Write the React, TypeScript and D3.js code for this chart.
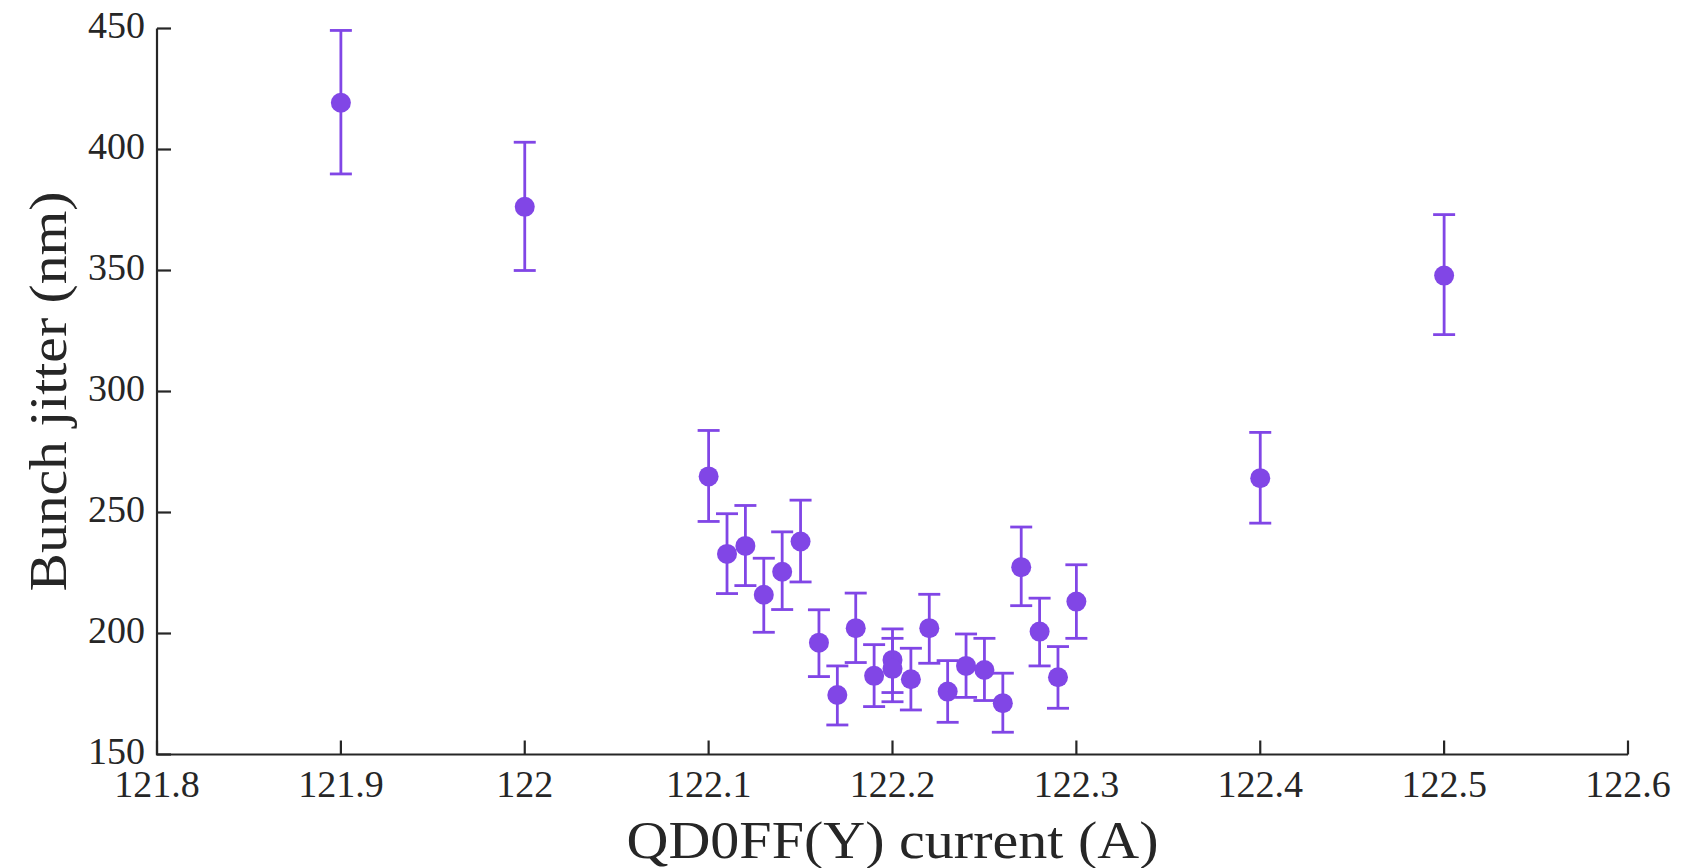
import React from "react";
import * as d3 from "d3";

// QD0FF(Y) current (A)
const currents = [
  121.9, 122.0, 122.1, 122.11, 122.12, 122.13, 122.14, 122.15, 122.16, 122.17,
  122.18, 122.19, 122.2, 122.2, 122.21, 122.22, 122.23, 122.24, 122.25, 122.26,
  122.27, 122.28, 122.29, 122.3, 122.4, 122.5,
];
// Bunch jitter (nm)
const jitter = [
  419.3, 376.3, 264.9, 232.9, 236.2, 216.0, 225.5, 238.0, 196.2, 174.6,
  202.2, 182.5, 189.1, 185.4, 181.1, 202.2, 176.0, 186.6, 184.9, 171.2,
  227.4, 200.8, 181.9, 213.2, 264.2, 347.9,
];
const jitterLow = [
  389.9, 350.0, 246.3, 216.5, 219.8, 200.5, 209.9, 221.3, 182.2, 162.2,
  188.0, 169.8, 175.6, 171.8, 168.4, 187.7, 163.3, 173.6, 172.3, 159.2,
  211.5, 186.6, 169.1, 198.0, 245.6, 323.5,
];
const jitterHigh = [
  449.2, 403.0, 283.9, 249.5, 252.9, 231.1, 242.0, 255.1, 209.8, 186.6,
  216.7, 195.4, 201.9, 198.0, 193.9, 216.2, 188.8, 199.8, 198.0, 183.6,
  244.0, 214.6, 194.6, 228.4, 283.1, 373.1,
];
const xTicks = [121.8, 121.9, 122.0, 122.1, 122.2, 122.3, 122.4, 122.5, 122.6];
const xTickLabels = ["121.8", "121.9", "122", "122.1", "122.2", "122.3", "122.4", "122.5", "122.6"];
const yTicks = [150, 200, 250, 300, 350, 400, 450];

const W = 1698;
const H = 868;
const left = 157;
const right = 1628;
const top = 28.5;
const bottom = 754.5;
const FONT = "'Liberation Serif', 'Times New Roman', serif";
const PURPLE = "#8146e6";
const AXIS = "#262626";

export default function App() {
  const x = d3.scaleLinear().domain([121.8, 122.6]).range([left, right]);
  const y = d3.scaleLinear().domain([150, 450]).range([bottom, top]);
  const tickLen = 14;
  const capHalf = 11;

  return (
    <div style={{ position: "absolute", left: 0, top: 0 }}>
      <svg width={W} height={H} style={{ display: "block", background: "#fff" }}>
        {/* axes */}
        <path
          d={`M${left},${top}V${bottom}H${right}`}
          fill="none"
          stroke={AXIS}
          strokeWidth={2.2}
        />
        {yTicks.map((t) => (
          <g key={"y" + t}>
            <line x1={left} x2={left + tickLen} y1={y(t)} y2={y(t)} stroke={AXIS} strokeWidth={2.2} />
            <text
              x={left - 12}
              y={y(t) + 9}
              textAnchor="end"
              fontFamily={FONT}
              fontSize={38}
              fill={AXIS}
            >
              {t}
            </text>
          </g>
        ))}
        {xTicks.map((t, i) => (
          <g key={"x" + t}>
            <line x1={x(t)} x2={x(t)} y1={bottom} y2={bottom - tickLen} stroke={AXIS} strokeWidth={2.2} />
            <text
              x={x(t)}
              y={bottom + 42}
              textAnchor="middle"
              fontFamily={FONT}
              fontSize={38}
              fill={AXIS}
            >
              {xTickLabels[i]}
            </text>
          </g>
        ))}
        {/* axis titles */}
        <text
          x={(left + right) / 2}
          y={858}
          textAnchor="middle"
          fontFamily={FONT}
          fontSize={52}
          fill={AXIS}
          textLength={532}
          lengthAdjust="spacingAndGlyphs"
        >
          QD0FF(Y) current (A)
        </text>
        <text
          transform={`translate(66,${(top + bottom) / 2}) rotate(-90)`}
          textAnchor="middle"
          fontFamily={FONT}
          fontSize={52}
          fill={AXIS}
          textLength={400}
          lengthAdjust="spacingAndGlyphs"
        >
          Bunch jitter (nm)
        </text>
        {/* error bars and markers */}
        {currents.map((c, i) => {
          const cx = x(c);
          return (
            <g key={"p" + i}>
              <line x1={cx} x2={cx} y1={y(jitterLow[i])} y2={y(jitterHigh[i])} stroke={PURPLE} strokeWidth={2.8} />
              <line x1={cx - capHalf} x2={cx + capHalf} y1={y(jitterLow[i])} y2={y(jitterLow[i])} stroke={PURPLE} strokeWidth={2.8} />
              <line x1={cx - capHalf} x2={cx + capHalf} y1={y(jitterHigh[i])} y2={y(jitterHigh[i])} stroke={PURPLE} strokeWidth={2.8} />
              <circle cx={cx} cy={y(jitter[i])} r={10} fill={PURPLE} />
            </g>
          );
        })}
      </svg>
    </div>
  );
}
